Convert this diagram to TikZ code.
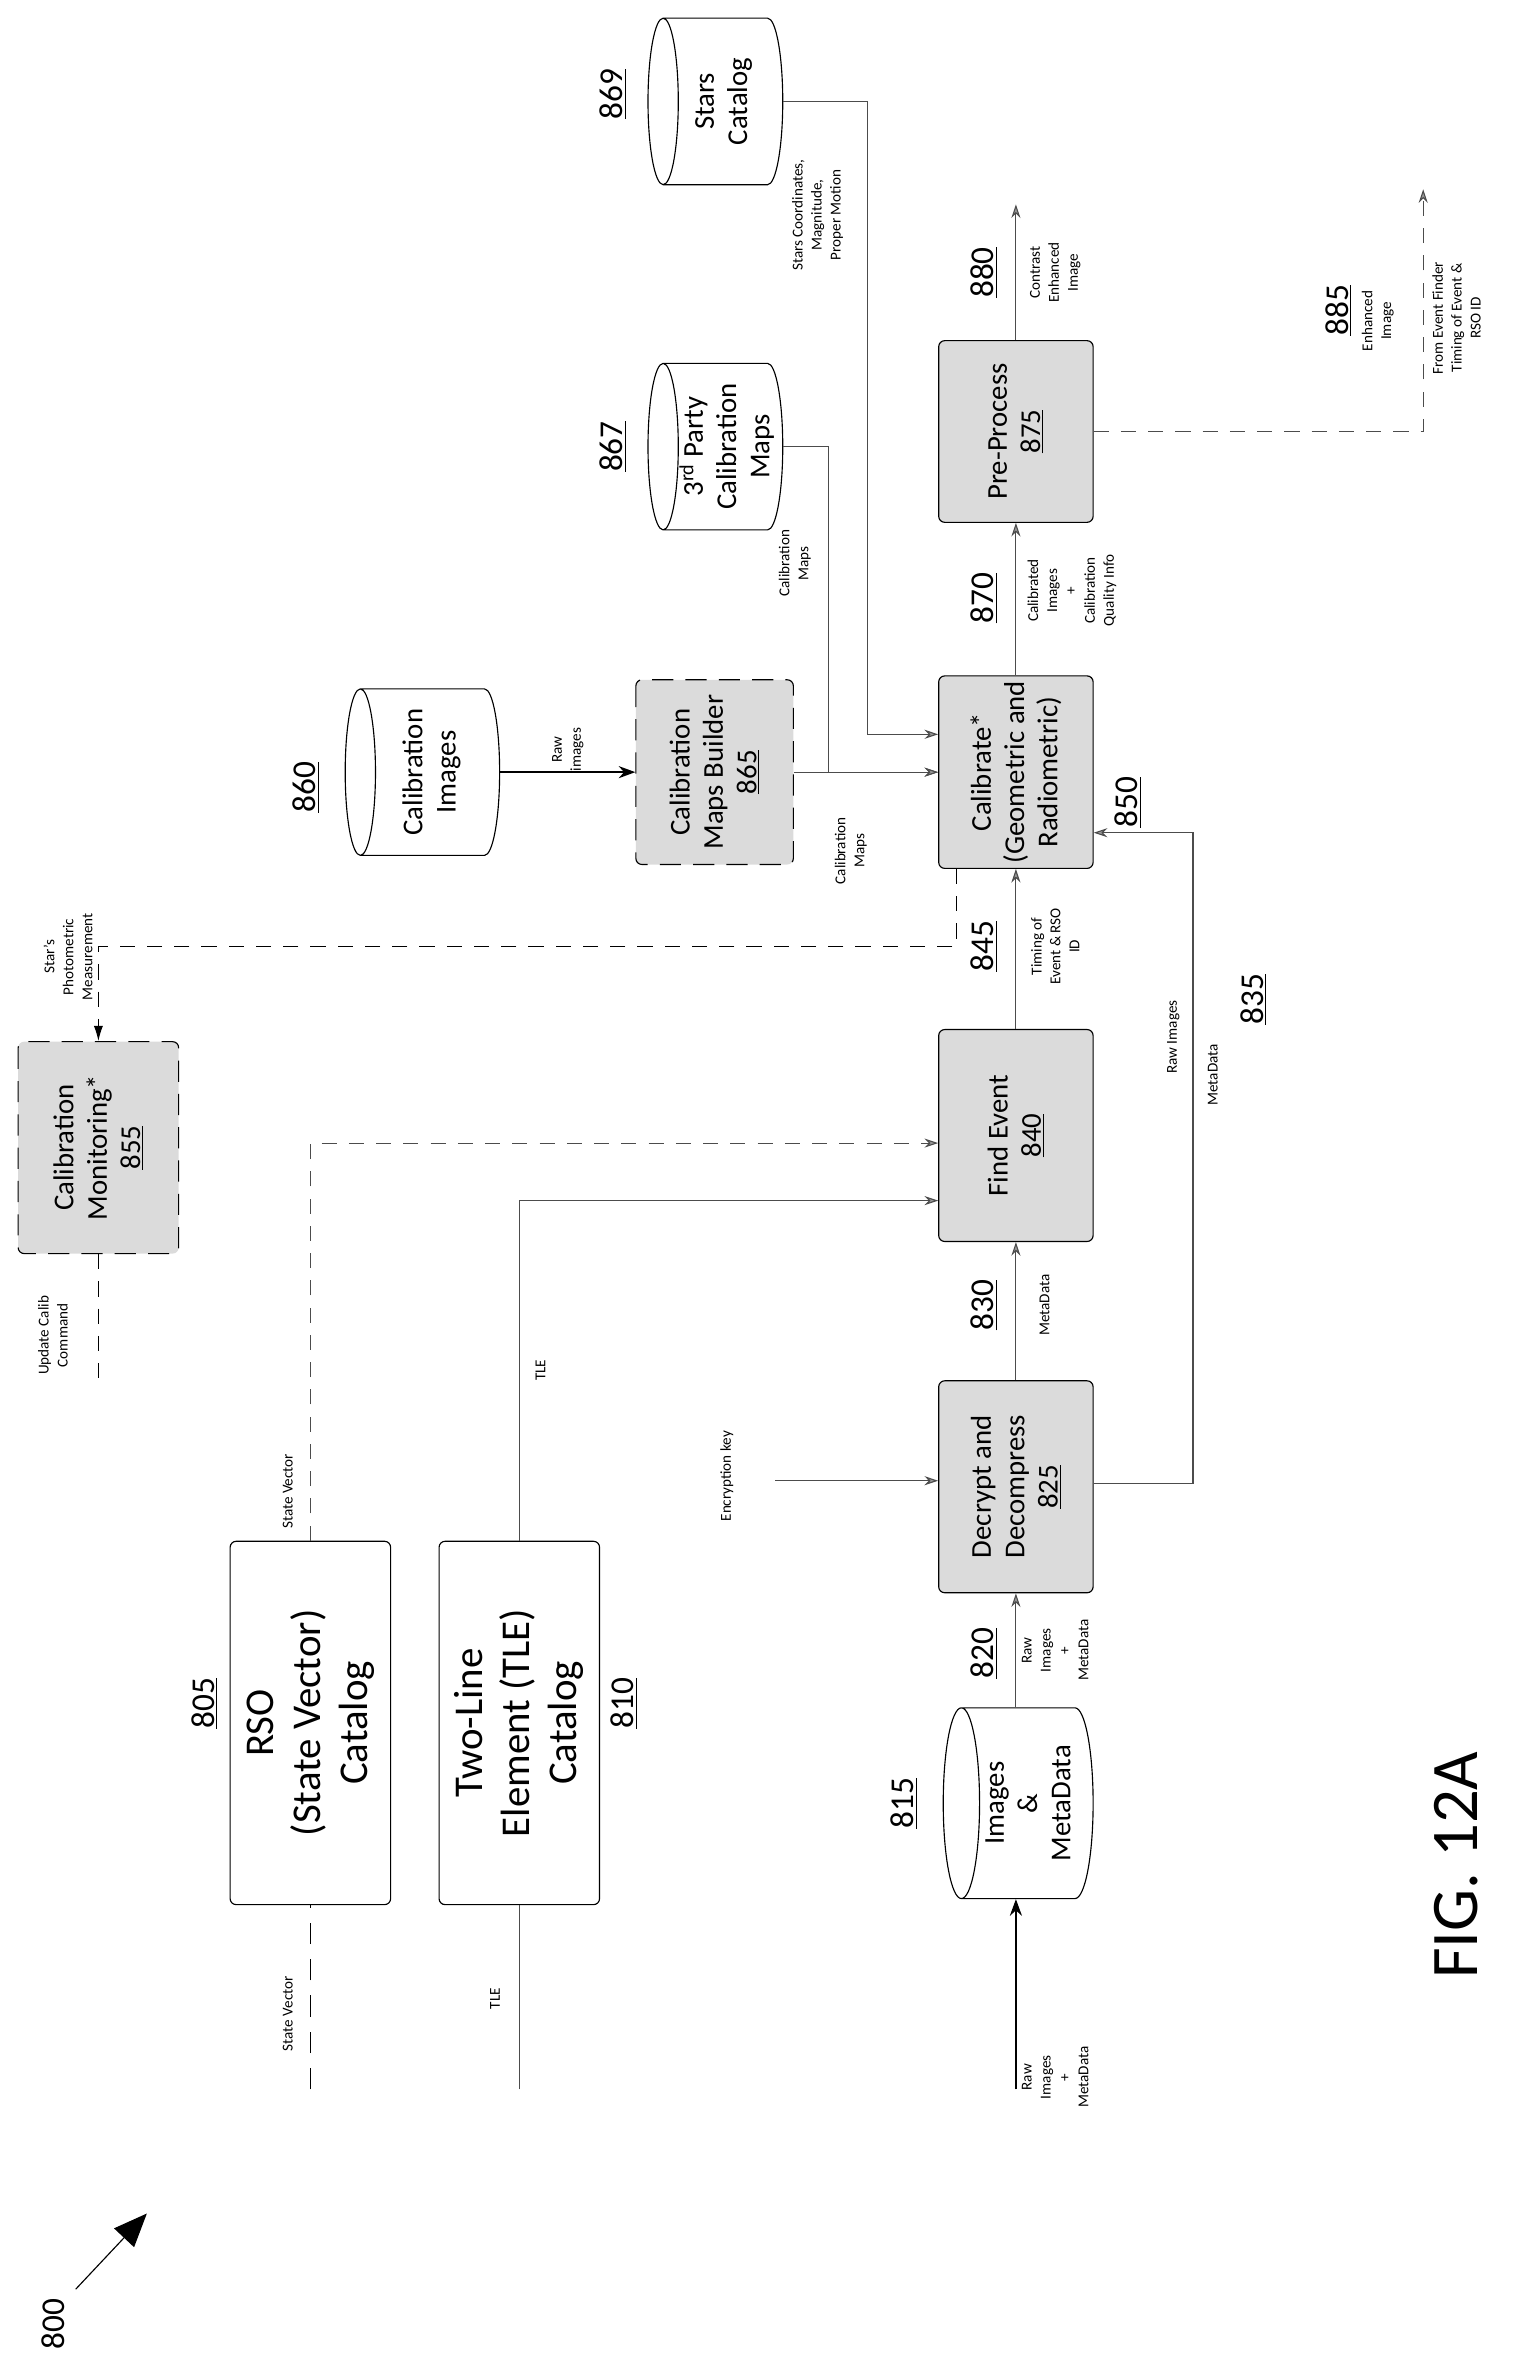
\documentclass[tikz,border=0pt]{standalone}
\usepackage{fontspec}
\setmainfont{Carlito}
\usetikzlibrary{arrows.meta}

\tikzset{every picture/.style={line width=0.75pt}}
\tikzset{
  blk/.style={draw, rounded corners=4pt, fill=black!14, rotate=90, align=center, font=\fontsize{19}{22}\selectfont},
  blkd/.style={blk, dash pattern=on 14pt off 8pt},
  cat/.style={draw, rounded corners=4pt, rotate=90, align=center, font=\fontsize{27}{31}\selectfont},
  can/.style={rotate=90, align=center, font=\fontsize{19}{22}\selectfont},
  lbl/.style={rotate=90, align=center, font=\fontsize{10}{12.5}\selectfont},
  num/.style={rotate=90, font=\fontsize{22}{24}\selectfont},
  arr/.style={draw=black!70, -{Stealth[length=9pt,width=6pt,fill=black!40]}},
  tarr/.style={line width=1.2pt, -{Stealth[length=11pt,width=8pt]}},
  darr/.style={arr, dash pattern=on 10pt off 8pt},
}

\begin{document}
\begin{tikzpicture}[x=1pt,y=1pt]
    \useasboundingbox (0,0) rectangle (1000,-1570);

    %Shape: Cans
    \draw (438,-12) -- (507,-12) arc (90:-90:10 and 55) -- (438,-122) arc (270:90:10 and 55) -- cycle (438,-12) arc (90:-90:10 and 55);
    \draw (438,-240) -- (507,-240) arc (90:-90:10 and 55) -- (438,-350) arc (270:90:10 and 55) -- cycle (438,-240) arc (90:-90:10 and 55);
    \draw (238,-455) -- (320,-455) arc (90:-90:10 and 55) -- (238,-565) arc (270:90:10 and 55) -- cycle (238,-455) arc (90:-90:10 and 55);
    \draw (635,-1128) -- (710,-1128) arc (90:-90:12 and 63) -- (635,-1254) arc (270:90:12 and 63) -- cycle (635,-1128) arc (90:-90:12 and 63);
    \node[can, minimum width=110, minimum height=89] (c869) at (478,-67) {Stars\\Catalog};
    \node[can, minimum width=110, minimum height=89] (c867) at (480,-295) {3\textsuperscript{rd} Party\\Calibration\\Maps};
    \node[can, minimum width=110, minimum height=102] (c860) at (285,-510) {Calibration\\Images};
    \node[can, minimum width=126, minimum height=99] (c815) at (679,-1191) {Images\\\&\\MetaData};

    %Shape: Blocks
    \node[cat, minimum width=240, minimum height=106] (n805) at (205,-1138) {RSO\\(State Vector)\\Catalog};
    \node[cat, minimum width=240, minimum height=106] (n810) at (343,-1138) {Two-Line\\Element (TLE)\\Catalog};
    \node[blkd, minimum width=140, minimum height=106] (n855) at (65,-758) {Calibration\\Monitoring*\\\underline{855}};
    \node[blkd, minimum width=122, minimum height=104] (n865) at (472,-510) {Calibration\\Maps Builder\\\underline{865}};
    \node[blk, minimum width=140, minimum height=102] (n825) at (671,-982) {Decrypt and\\Decompress\\\underline{825}};
    \node[blk, minimum width=140, minimum height=102] (n840) at (671,-750) {Find Event\\\underline{840}};
    \node[blk, minimum width=122, minimum height=102] (n850) at (671,-510) {Calibrate*\\(Geometric and\\Radiometric)};
    \node[blk, minimum width=120, minimum height=102] (n875) at (671,-285) {Pre-Process\\\underline{875}};

    %Free ends and bends
    \coordinate (in815) at (671,-1380);
    \coordinate (key) at (512,-978);
    \coordinate (k835) at (788,-550);
    \coordinate (k869) at (573,-485);
    \coordinate (k867) at (547,-510);
    \coordinate (k855) at (632,-625);
    \coordinate (out880) at (671,-135);
    \coordinate (out885) at (940,-125);
    \coordinate (sv0) at (205,-1380);
    \coordinate (sv1) at (205,-755);
    \coordinate (tle0) at (343,-1380);
    \coordinate (tle1) at (343,-793);
    \coordinate (upd) at (65,-915);

    %Connectors
    \draw[tarr] (in815) -- (in815 |- c815.west);
    \draw[arr] (in815 |- c815.east) -- (n825);
    \draw[arr] (key) -- (key -| n825.north);
    \draw[arr] (n825) -- (n840);
    \draw[arr] (n825.south |- 0,-980) -| (k835) -- (k835 -| n850.south);
    \draw[arr] (n840) -- (n850);
    \draw[arr] (n850) -- (n875);
    \draw[arr] (n875) -- (out880);
    \draw[darr] (n875.south) -| (out885);
    \draw[arr] (517,-67) -| (k869) -- (k869 -| n850.north);
    \draw[arr] (517,-295) -| (k867) -- (k867 -| n850.north);
    \draw[tarr] (330,-510) -- (n865);
    \draw[arr] (n865) -- (n850);
    \draw[dash pattern=on 10pt off 8pt, -{Latex[length=10pt,width=6pt]}] (k855 |- n850.west) -- (k855) -| (n855.east);
    \draw[dash pattern=on 10pt off 8pt] (n855.west) -- (upd);
    \draw[dash pattern=on 14pt off 10pt] (sv0) -- (n805.west);
    \draw[darr] (n805.east) -- (sv1) -- (sv1 -| n840.north);
    \draw[draw=black!70] (tle0) -- (n810.west);
    \draw[arr] (n810.east) -- (tle1) -- (tle1 -| n840.north);

    %Reference numbers
    \node[num] (l805) at (135,-1125) {\underline{805}};
    \node[num] (l810) at (412,-1125) {\underline{810}};
    \node[num] (l815) at (597,-1191) {\underline{815}};
    \node[num] (l820) at (650,-1092) {\underline{820}};
    \node[num] (l830) at (650,-862) {\underline{830}};
    \node[num] (l835) at (828,-660) {\underline{835}};
    \node[num] (l845) at (650,-625) {\underline{845}};
    \node[num] (l850) at (745,-530) {\underline{850}};
    \node[num] (l860) at (202,-520) {\underline{860}};
    \node[num] (l867) at (405,-295) {\underline{867}};
    \node[num] (l869) at (405,-62) {\underline{869}};
    \node[num] (l870) at (650,-395) {\underline{870}};
    \node[num] (l880) at (650,-180) {\underline{880}};
    \node[num] (l885) at (884,-205) {\underline{885}};

    %Text Nodes
    \node[lbl] (t0) at (697,-1372) {Raw\\Images\\+\\MetaData};
    \node[lbl] (t1) at (697,-1090) {Raw\\Images\\+\\MetaData};
    \node[lbl] (t2) at (480,-975) {Encryption key};
    \node[lbl] (t3) at (690,-862) {MetaData};
    \node[lbl] (t4) at (775,-685) {Raw Images};
    \node[lbl] (t5) at (801,-710) {MetaData};
    \node[lbl] (t6) at (697,-625) {Timing of\\Event \& RSO\\ID};
    \node[lbl] (t7) at (708,-390) {Calibrated\\Images\\+\\Calibration\\Quality Info};
    \node[lbl] (t8) at (697,-180) {Contrast\\Enhanced\\Image};
    \node[lbl] (t9) at (910,-212) {Enhanced\\Image};
    \node[lbl] (t10) at (962,-210) {From Event Finder\\Timing of Event \&\\RSO ID};
    \node[lbl] (t11) at (540,-142) {Stars Coordinates,\\Magnitude,\\Proper Motion};
    \node[lbl] (t12) at (525,-372) {Calibration\\Maps};
    \node[lbl] (t13) at (562,-562) {Calibration\\Maps};
    \node[lbl] (t14) at (375,-495) {Raw\\images};
    \node[lbl] (t15) at (45,-632) {Star's\\Photometric\\Measurement};
    \node[lbl] (t16) at (35,-882) {Update Calib\\Command};
    \node[lbl] (t17) at (190,-1330) {State Vector};
    \node[lbl] (t18) at (190,-985) {State Vector};
    \node[lbl] (t19) at (327,-1320) {TLE};
    \node[lbl] (t20) at (357,-905) {TLE};

    %Figure mark
    \node[rotate=90, font=\fontsize{44}{50}\selectfont] (fig) at (962,-1232) {FIG. 12A};
    \node[num] (l800) at (35,-1535) {800};
    \coordinate (p800) at (50,-1512);
    \coordinate (q800) at (97,-1462);
    \draw[-{Triangle[length=22pt,width=18pt]}] (p800) -- (q800);
\end{tikzpicture}
\end{document}
